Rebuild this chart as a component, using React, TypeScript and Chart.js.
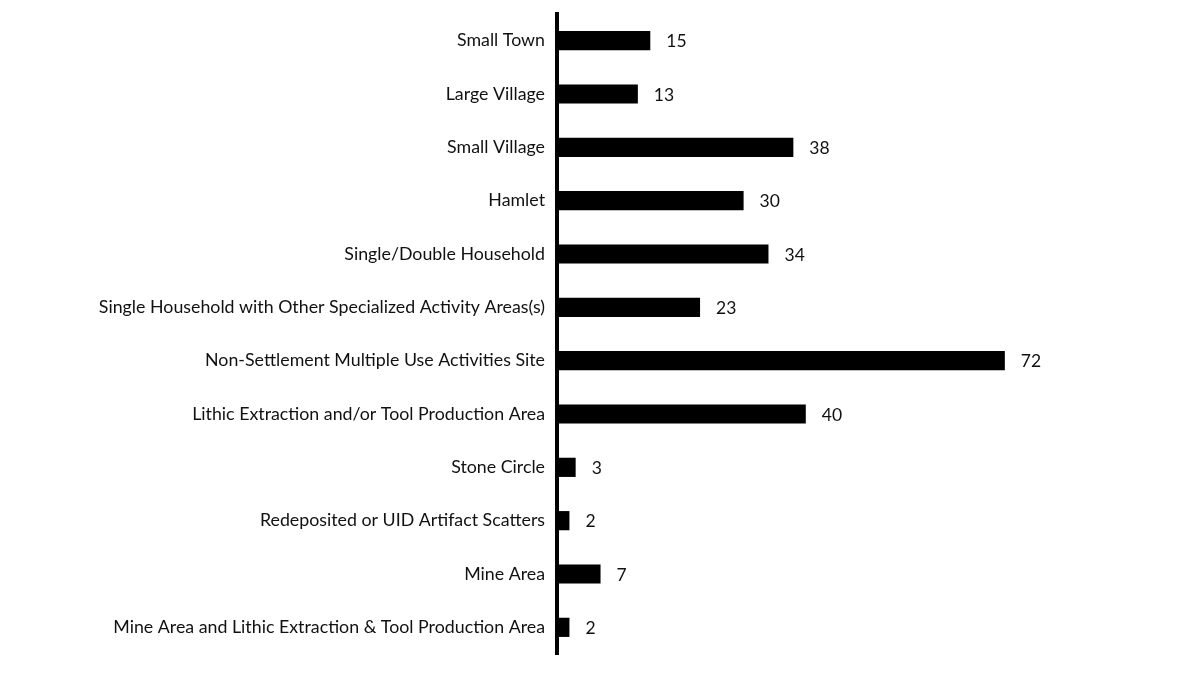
import React, { useEffect, useRef } from "react";
import { Chart, registerables } from "chart.js";

Chart.register(...registerables);

const categories = [
  "Small Town",
  "Large Village",
  "Small Village",
  "Hamlet",
  "Single/Double Household",
  "Single Household with Other Specialized Activity Areas(s)",
  "Non-Settlement Multiple Use Activities Site",
  "Lithic Extraction and/or Tool Production Area",
  "Stone Circle",
  "Redeposited or UID Artifact Scatters",
  "Mine Area",
  "Mine Area and Lithic Extraction & Tool Production Area",
];
const counts = [15, 13, 38, 30, 34, 23, 72, 40, 3, 2, 7, 2];

const FONT = "Lato, 'Open Sans', sans-serif";

const valueLabels = {
  id: "valueLabels",
  afterDatasetsDraw(chart: any) {
    const ctx = chart.ctx;
    const meta = chart.getDatasetMeta(0);
    ctx.save();
    ctx.font = `17.5px ${FONT}`;
    ctx.fillStyle = "#111";
    ctx.textAlign = "left";
    ctx.textBaseline = "middle";
    meta.data.forEach((bar: any, i: number) => {
      ctx.fillText(String(counts[i]), bar.x + 16, bar.y + 1);
    });
    ctx.restore();
  },
};

export default function App() {
  const ref = useRef<HTMLCanvasElement>(null);
  useEffect(() => {
    if (!ref.current) return;
    const chart = new Chart(ref.current, {
      type: "bar",
      data: {
        labels: categories,
        datasets: [
          {
            data: counts,
            backgroundColor: "#000",
            borderWidth: 0,
            barPercentage: 0.36,
            categoryPercentage: 1,
          },
        ],
      },
      options: {
        indexAxis: "y",
        animation: false,
        responsive: false,
        maintainAspectRatio: false,
        layout: { padding: { top: 14, bottom: 27, right: 13, left: 0 } },
        plugins: { legend: { display: false }, tooltip: { enabled: false } },
        scales: {
          x: { display: false, min: 0, max: 100 },
          y: {
            grid: { display: false, drawTicks: false },
            border: { display: true, width: 4, color: "#000" },
            ticks: {
              color: "#111",
              font: { family: FONT, size: 17.8 },
              padding: 12,
            },
            afterFit: (scale: any) => {
              scale.width = 557;
              scale.paddingTop = 0;
              scale.paddingBottom = 0;
            },
          },
        },
      },
      plugins: [valueLabels],
    });
    return () => chart.destroy();
  }, []);
  return (
    <div style={{ position: "fixed", left: 0, top: 0, width: 1192, height: 681, background: "#fff" }}>
      <canvas ref={ref} width={1192} height={681} style={{ width: 1192, height: 681 }} />
    </div>
  );
}
